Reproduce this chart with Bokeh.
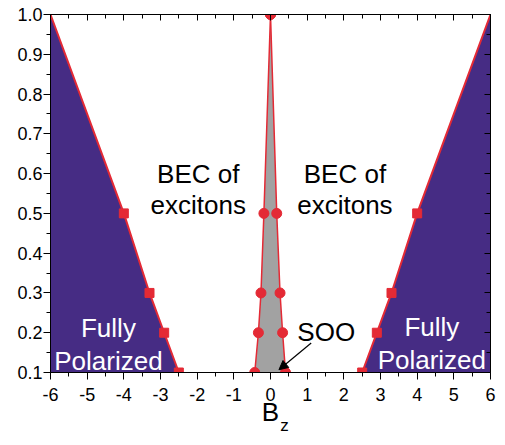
from bokeh.plotting import figure
from bokeh.models import (Range1d, LinearAxis, FixedTicker, PrintfTickFormatter,
                          Label, Arrow, NormalHead)
from bokeh.embed import file_html
from bokeh.resources import INLINE

# ---- data ----
fp_y = [1.0, 0.5, 0.3, 0.2, 0.1]
fp_left_x = [-6.0, -4.0, -3.3, -2.9, -2.5]
fp_right_x = [6.0, 4.0, 3.3, 2.9, 2.5]
fp_mark_y = [0.5, 0.3, 0.2, 0.1]
fp_mark_left_x = [-4.0, -3.3, -2.9, -2.5]
fp_mark_right_x = [4.0, 3.3, 2.9, 2.5]

soo_y = [1.0, 0.5, 0.3, 0.2, 0.1]
soo_left_x = [0.0, -0.18, -0.26, -0.33, -0.43]
soo_right_x = [0.0, 0.17, 0.26, 0.33, 0.41]

x_ticks = [-6, -5, -4, -3, -2, -1, 0, 1, 2, 3, 4, 5, 6]
x_minor = [-5.5, -4.5, -3.5, -2.5, -1.5, -0.5, 0.5, 1.5, 2.5, 3.5, 4.5, 5.5]
y_ticks = [0.1, 0.2, 0.3, 0.4, 0.5, 0.6, 0.7, 0.8, 0.9, 1.0]
y_minor = [0.15, 0.25, 0.35, 0.45, 0.55, 0.65, 0.75, 0.85, 0.95]

x_label_main = "B"
x_label_sub = "z"
x_label_sub_pos = 0.38

PURPLE = "#462c84"
GRAY = "#a2a2a2"
RED = "#e42a35"
FONT = "Liberation Sans"

p = figure(width=497, height=437, output_backend="svg", toolbar_location=None,
           x_range=Range1d(-6, 6), y_range=Range1d(0.1, 1.0),
           min_border_left=50, min_border_right=7, min_border_top=14,
           min_border_bottom=62)
p.grid.visible = False
p.outline_line_color = "black"
p.background_fill_color = "white"
p.border_fill_color = "white"

# fills
p.harea(y=fp_y, x1=-6, x2=fp_left_x, fill_color=PURPLE)
p.harea(y=fp_y, x1=fp_right_x, x2=6, fill_color=PURPLE)
p.harea(y=soo_y, x1=soo_left_x, x2=soo_right_x, fill_color=GRAY)

# boundaries
for xs in (fp_left_x, fp_right_x):
    p.line(xs, fp_y, line_color=RED, line_width=2)
for xs in (soo_left_x, soo_right_x):
    p.line(xs, soo_y, line_color=RED, line_width=1.5)
p.scatter(fp_mark_left_x, fp_mark_y, marker="square", size=9, color=RED)
p.scatter(fp_mark_right_x, fp_mark_y, marker="square", size=9, color=RED)
p.scatter(soo_left_x, soo_y, marker="circle", size=10, color=RED)
p.scatter(soo_right_x, soo_y, marker="circle", size=10, color=RED)

# axes
xt = FixedTicker(ticks=x_ticks, minor_ticks=x_minor)
yt = FixedTicker(ticks=y_ticks, minor_ticks=y_minor)
for ax, t, fmt in ((p.xaxis[0], xt, "%d"), (p.yaxis[0], yt, "%.1f")):
    ax.ticker = t
    ax.formatter = PrintfTickFormatter(format=fmt)
    ax.major_label_text_font = FONT
    ax.major_label_text_font_size = "18px"
    ax.major_label_text_color = "black"
    ax.axis_line_color = "black"
    ax.major_tick_line_color = "black"
    ax.minor_tick_line_color = "black"
    ax.major_tick_in = 0
    ax.major_tick_out = 7
    ax.minor_tick_in = 0
    ax.minor_tick_out = 4
p.xaxis[0].major_label_standoff = 8
p.yaxis[0].major_label_standoff = 1

xa = p.xaxis[0]
xa.axis_label = x_label_main
xa.axis_label_text_font = FONT
xa.axis_label_text_font_size = "26px"
xa.axis_label_text_font_style = "normal"
xa.axis_label_text_color = "black"
xa.axis_label_standoff = -7

# subscript "z" as the single label of an invisible extra axis
sub_axis = LinearAxis(ticker=FixedTicker(ticks=[x_label_sub_pos], minor_ticks=[]),
                      major_label_overrides={x_label_sub_pos: x_label_sub},
                      major_tick_in=0, major_tick_out=0, minor_tick_in=0,
                      minor_tick_out=0, axis_line_color=None,
                      major_tick_line_color=None, minor_tick_line_color=None,
                      major_label_standoff=-14, major_label_text_font=FONT,
                      major_label_text_font_size="17px",
                      major_label_text_color="black")
p.add_layout(sub_axis, "below")

for t, side in ((xt, "above"), (yt, "right")):
    ax = LinearAxis(ticker=t, major_label_text_color=None,
                    major_label_standoff=0, major_tick_in=6, major_tick_out=0,
                    minor_tick_in=4, minor_tick_out=0, axis_line_color="black",
                    major_tick_line_color="black", minor_tick_line_color="black")
    p.add_layout(ax, side)

# annotations
def lab(x, y, text, size="26px", color="black"):
    p.add_layout(Label(x=x, y=y, text=text, text_font=FONT, text_font_size=size,
                       text_color=color, text_align="center",
                       text_baseline="alphabetic"))

lab(-1.97, 0.598, "BEC of")
lab(-1.97, 0.522, "excitons")
lab(2.03, 0.598, "BEC of")
lab(2.03, 0.522, "excitons")
lab(-4.42, 0.212, "Fully", color="white")
lab(-4.42, 0.128, "Polarized", color="white")
lab(4.4, 0.214, "Fully", color="white")
lab(4.4, 0.132, "Polarized", color="white")
lab(1.52, 0.202, "SOO")

p.add_layout(Arrow(end=NormalHead(size=9, fill_color="black", line_color="black"),
                   x_start=1.11, y_start=0.174, x_end=0.23, y_end=0.107,
                   line_width=1.2, line_color="black"))

open("out.html", "w").write(file_html(p, INLINE))
